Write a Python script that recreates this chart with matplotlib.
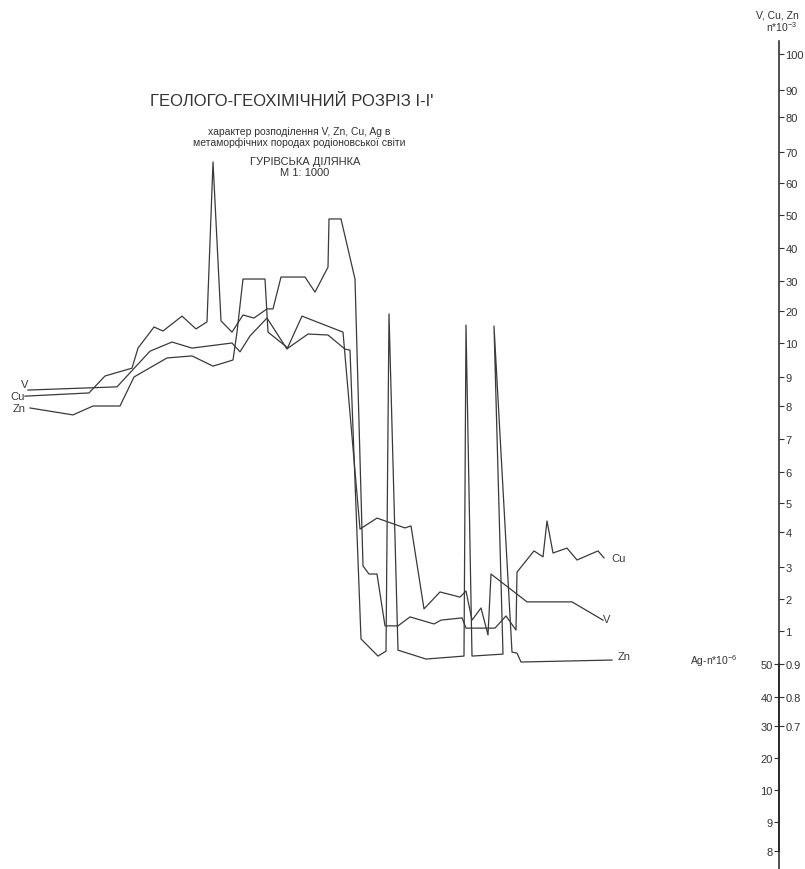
#!/usr/bin/env python3

"""
Geological-geochemical section I-I' (Hurivska area):
V, Cu, Zn distribution along the profile, drawn on the non-uniform
concentration scale of the original sheet.
"""

import matplotlib
matplotlib.use("Agg")
import matplotlib.pyplot as plt
import numpy as np

plt.rcParams['font.family'] = ['Liberation Sans', 'DejaVu Sans']
plt.rcParams['mathtext.fontset'] = 'custom'
plt.rcParams['mathtext.rm'] = 'Liberation Sans'
plt.rcParams['mathtext.default'] = 'regular'

# distance along the profile and contents (n*10^-3)
v_dist = [28, 117, 150, 172, 192, 232, 240, 250, 267, 287, 302, 343,
          360, 377, 405, 411, 424, 440, 460, 466, 472, 481, 488, 491,
          527, 572, 603]
v_vals = [8.55, 8.66, 9.76, 10.3, 9.85, 10.0, 9.74, 12.2, 17.8, 9.82, 18.4, 13.4,
          4.10, 4.48, 4.14, 4.21, 1.69, 2.22, 2.06, 2.25, 1.34, 1.72, 0.988, 2.78,
          1.91, 1.91, 1.34]

cu_dist = [25, 89, 105, 132, 138, 154, 163, 182, 196, 207, 213, 221,
           232, 243, 254, 267, 273, 281, 305, 315, 328, 329, 341, 355,
           363, 369, 377, 385, 398, 410, 434, 441, 462, 466, 495, 506,
           516, 517, 534, 543, 547, 553, 567, 577, 598, 604]
cu_vals = [8.34, 8.45, 9.03, 9.26, 9.85, 15.0, 13.75, 18.4, 14.4, 16.6, 66.8, 16.9,
           13.4, 18.75, 17.8, 20.7, 20.7, 31.2, 31.2, 26.3, 34.2, 48.8, 48.8, 30.6,
           3.03, 2.78, 2.78, 1.16, 1.16, 1.44, 1.22, 1.34, 1.41, 1.09, 1.09, 1.47,
           1.03, 2.84, 3.46, 3.29, 4.38, 3.40, 3.54, 3.20, 3.46, 3.26]

zn_dist = [30, 73, 93, 120, 134, 167, 192, 213, 233, 237, 243, 265,
           268, 288, 308, 328, 345, 350, 361, 378, 386, 389, 398, 426,
           464, 466, 472, 503, 494, 512, 517, 521, 612]
zn_vals = [7.94, 7.73, 8.0, 8.0, 9.0, 9.56, 9.62, 9.32, 9.5, 13.4, 30.6, 30.6,
           13.4, 9.85, 12.8, 12.5, 9.82, 9.79, 0.976, 0.924, 0.939, 19.1, 0.942, 0.915,
           0.924, 15.6, 0.924, 0.930, 15.3, 0.936, 0.933, 0.906, 0.912]

# scale of V, Cu, Zn (n*10^-3) and of Ag (n*10^-6)
main_ticks = [100, 90, 80, 70, 60, 50, 40, 30, 20, 10, 9, 8, 7, 6, 5, 4, 3, 2, 1,
              0.9, 0.8, 0.7]
main_labels = ['100', '90', '80', '70', '60', '50', '40', '30', '20', '10', '9', '8',
               '7', '6', '5', '4', '3', '2', '1', '0.9', '0.8', '0.7']
ag_ticks = [50, 40, 30, 20, 10, 9, 8]
ag_labels = ['50', '40', '30', '20', '10', '9', '8']

# heights of the ticks on the sheet (pixels from the top)
main_tick_px = [55, 91, 118, 153, 184, 216, 249, 282, 312, 344, 378, 407, 440, 473,
                504, 533, 568, 600, 632, 665, 698, 727]
ag_tick_px = [665, 698, 727, 759, 791, 823, 852]

W, H = 805, 870
AXIS_X = 779
LINE_COLOR = '#3a3a3a'


def make_scale(vals, px, k=100):
    """Piecewise linear scale through the tick marks, extended past the ends."""
    order = np.argsort(vals)
    v = np.asarray(vals, float)[order]
    p = np.asarray(px, float)[order]
    v = np.concatenate([[v[0] - k * (v[1] - v[0])], v, [v[-1] + k * (v[-1] - v[-2])]])
    p = np.concatenate([[p[0] - k * (p[1] - p[0])], p, [p[-1] + k * (p[-1] - p[-2])]])

    def forward(x):
        return -np.interp(x, v, p)

    def inverse(y):
        return np.interp(-np.asarray(y, float), p[::-1], v[::-1])

    return forward, inverse


fig = plt.figure(figsize=(W / 100, H / 100), dpi=100)
ax = fig.add_axes([0, 0, 1, 1])
fwd, inv = make_scale(main_ticks, main_tick_px)
ax.set_yscale('function', functions=(fwd, inv))
ax.set_xlim(0, W)
ax.set_ylim(inv(-H), inv(0))

# Ag axis twin (created first: twinx moves the host ticks to the left)
ax2 = ax.twinx()
fwd_ag, inv_ag = make_scale(ag_ticks, ag_tick_px)
ax2.set_yscale('function', functions=(fwd_ag, inv_ag))
ax2.set_ylim(inv_ag(-H), inv_ag(0))

series = [('V', v_dist, v_vals), ('Cu', cu_dist, cu_vals), ('Zn', zn_dist, zn_vals)]
start_offsets = {'V': (0, 4.5), 'Cu': (-0.5, 0), 'Zn': (-3, 0)}
end_offsets = {'V': (0, 0.5), 'Cu': (5, 0), 'Zn': (4, 3)}
for name, dist, vals in series:
    ax.plot(dist, vals, color=LINE_COLOR, lw=0.9)
    ax.annotate(name, xy=(dist[0], vals[0]), xytext=start_offsets[name],
                textcoords='offset points', ha='right', va='center',
                fontsize=8, color=LINE_COLOR)
    ax.annotate(name, xy=(dist[-1], vals[-1]), xytext=end_offsets[name],
                textcoords='offset points', ha='left', va='center',
                fontsize=8, color=LINE_COLOR)

# main concentration axis, ticks to the right
for side in ['left', 'top', 'bottom']:
    ax.spines[side].set_visible(False)
ax.spines['right'].set_position(('data', AXIS_X))
ax.spines['right'].set_bounds(inv(-H), inv(-42))
ax.spines['right'].set_color('#222222')
ax.spines['right'].set_linewidth(1.1)
ax.xaxis.set_visible(False)
ax.yaxis.set_ticks_position('right')
ax.set_yticks(main_ticks)
ax.set_yticklabels(main_labels)
ax.yaxis.set_minor_locator(matplotlib.ticker.NullLocator())
ax.tick_params(axis='y', direction='out', length=3.5, width=0.8, pad=1,
               labelsize=8, colors='#333333')

# Ag axis on the lower part, ticks to the left
for side in ['right', 'top', 'bottom']:
    ax2.spines[side].set_visible(False)
ax2.spines['left'].set_position(('data', AXIS_X))
ax2.spines['left'].set_bounds(8, 50)
ax2.spines['left'].set_color('#222222')
ax2.spines['left'].set_linewidth(1.1)
ax2.yaxis.set_ticks_position('left')
ax2.set_yticks(ag_ticks)
ax2.set_yticklabels(ag_labels)
ax2.yaxis.set_minor_locator(matplotlib.ticker.NullLocator())
ax2.tick_params(axis='y', direction='out', length=3.5, width=0.8, pad=1,
                labelsize=8, colors='#333333')

# headings and axis captions
txt = dict(color='#333333', ha='center', va='center')
fig.text(292 / W, 1 - 101 / H, "ГЕОЛОГО-ГЕОХІМІЧНИЙ РОЗРІЗ І-І'", fontsize=12, **txt)
fig.text(299 / W, 1 - 132 / H, "характер розподілення V, Zn, Cu, Ag в", fontsize=7.5, **txt)
fig.text(299 / W, 1 - 143 / H, "метаморфічних породах родіоновської світи", fontsize=7.5, **txt)
fig.text(305 / W, 1 - 162 / H, "ГУРІВСЬКА ДІЛЯНКА", fontsize=8, **txt)
fig.text(305 / W, 1 - 173 / H, "М 1: 1000", fontsize=8, **txt)
fig.text(777 / W, 1 - 16 / H, "V, Cu, Zn", fontsize=7.5, **txt)
fig.text(782 / W, 1 - 27 / H, "n*10$^{-3}$", fontsize=7.5, **txt)
fig.text(714 / W, 1 - 661 / H, "Ag-n*10$^{-6}$", fontsize=7.5, **txt)

fig.savefig('out.png', dpi=100, facecolor='white')
